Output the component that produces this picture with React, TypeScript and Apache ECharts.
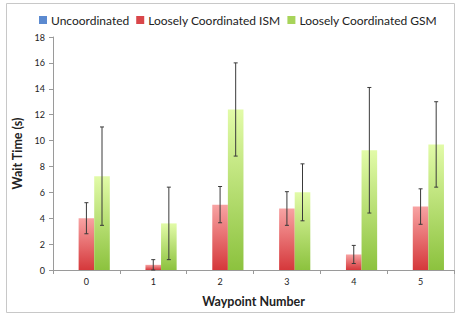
import React, { useEffect, useRef } from "react";
import * as echarts from "echarts";

const categories = ["0", "1", "2", "3", "4", "5"];
const seriesNames = ["Uncoordinated", "Loosely Coordinated ISM", "Loosely Coordinated GSM"];
const uncoordinated = [0, 0, 0, 0, 0, 0];
const ismValues = [4.0, 0.4, 5.05, 4.75, 1.2, 4.9];
const gsmValues = [7.25, 3.6, 12.4, 6.0, 9.25, 9.7];
const uncoordErr = [0, 0, 0, 0, 0, 0];
const ismErr = [1.2, 0.4, 1.4, 1.3, 0.7, 1.37];
const gsmErr = [3.8, 2.8, 3.6, 2.2, 4.85, 3.3];
const yTicks = [0, 2, 4, 6, 8, 10, 12, 14, 16, 18];

const FONT = "Lato, 'Open Sans', sans-serif";

export default function App() {
  const ref = useRef<HTMLDivElement>(null);
  useEffect(() => {
    if (!ref.current) return;
    const chart = echarts.init(ref.current, undefined, { renderer: "svg" });
    const grad = (top: string, bottom: string) =>
      new echarts.graphic.LinearGradient(0, 0, 0, 1, [
        { offset: 0, color: top },
        { offset: 1, color: bottom },
      ]);
    const colors = [
      grad("#9dbbe6", "#4f7fc0"),
      grad("#f8a3a3", "#d5383b"),
      grad("#e2fba8", "#8cc23e"),
    ];
    const legendColors = ["#5b8ad0", "#d9464a", "#a8d45a"];
    const values = [uncoordinated, ismValues, gsmValues];
    const errs = [uncoordErr, ismErr, gsmErr];

    const errSeries = (k: number) => ({
      type: "custom",
      name: seriesNames[k] + " err",
      silent: true,
      z: 10,
      data: values[k].map((v, i) => [i, v - errs[k][i], v + errs[k][i], errs[k][i]]),
      renderItem: (params: any, api: any) => {
        if (api.value(3) === 0) return null;
        const idx = api.value(0);
        const lo = api.coord([idx, api.value(1)]);
        const hi = api.coord([idx, api.value(2)]);
        const band = api.size([1, 0])[0];
        const bw = (band * 0.7) / 3;
        const x = lo[0] + (k - 1) * bw;
        const cap = 2;
        const style = { stroke: "#3a3a3a", lineWidth: 1 };
        return {
          type: "group",
          children: [
            { type: "line", shape: { x1: x, y1: lo[1], x2: x, y2: hi[1] }, style },
            { type: "line", shape: { x1: x - cap, y1: lo[1], x2: x + cap, y2: lo[1] }, style },
            { type: "line", shape: { x1: x - cap, y1: hi[1], x2: x + cap, y2: hi[1] }, style },
          ],
        };
      },
    });

    chart.setOption({
      animation: false,
      textStyle: { fontFamily: FONT },
      graphic: [
        {
          type: "rect",
          shape: { x: 6.5, y: 3.5, width: 448, height: 309 },
          style: { fill: "none", stroke: "#c8c8c8", lineWidth: 1 },
          silent: true,
        },
      ],
      legend: {
        top: 9,
        left: 34,
        itemWidth: 8,
        itemHeight: 8,
        itemGap: 7,
        icon: "rect",
        data: seriesNames.map((n, k) => ({ name: n, itemStyle: { color: legendColors[k] } })),
        textStyle: { fontFamily: FONT, fontSize: 12, color: "#222", padding: [0, 0, 0, -1] },
      },
      grid: { left: 53, right: 4, top: 37, bottom: 46 },
      xAxis: {
        type: "category",
        data: categories,
        name: "Waypoint Number",
        nameLocation: "middle",
        nameGap: 25,
        nameTextStyle: { fontFamily: FONT, fontWeight: "bold", fontSize: 12.5, color: "#222" },
        axisLine: { lineStyle: { color: "#9a9a9a" } },
        axisTick: { show: true, length: 4, lineStyle: { color: "#9a9a9a" } },
        axisLabel: { fontSize: 9, color: "#222", margin: 7 },
      },
      yAxis: {
        type: "value",
        min: 0,
        max: 18,
        interval: 2,
        name: "Wait Time (s)",
        nameLocation: "middle",
        nameGap: 19,
        nameTextStyle: { fontFamily: FONT, fontWeight: "bold", fontSize: 12.5, color: "#222" },
        axisLine: { show: true, lineStyle: { color: "#9a9a9a" } },
        axisTick: { show: true, length: 4, lineStyle: { color: "#9a9a9a" } },
        splitLine: { show: false },
        axisLabel: {
          fontSize: 9,
          color: "#222",
          margin: 8,
          formatter: (v: number) => (yTicks.includes(v) ? String(v) : ""),
        },
      },
      series: [
        ...values.map((vals, k) => ({
          type: "bar",
          name: seriesNames[k],
          data: vals,
          barGap: "0%",
          barCategoryGap: "30%",
          itemStyle: { color: colors[k] },
        })),
        errSeries(1),
        errSeries(2),
      ],
    });
    return () => chart.dispose();
  }, []);
  return (
    <div
      ref={ref}
      style={{ position: "fixed", left: 0, top: 0, width: 458, height: 316, background: "#fff" }}
    />
  );
}
